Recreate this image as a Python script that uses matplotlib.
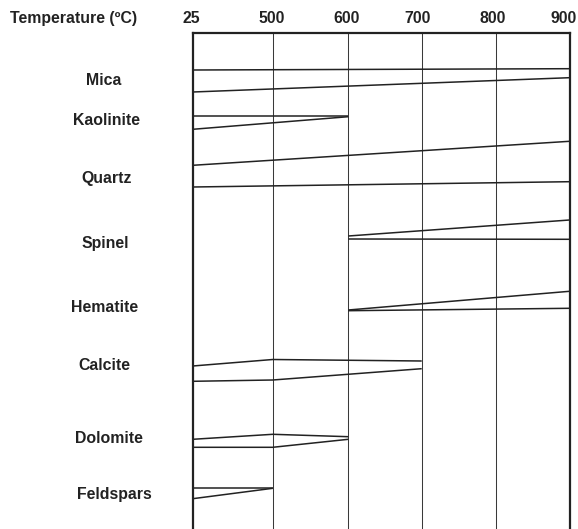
import matplotlib
matplotlib.use("Agg")
import matplotlib.pyplot as plt
from matplotlib import transforms

# Temperature steps shown as columns across the top
temperatures = [25, 500, 600, 700, 800, 900]
temperature_labels = ["25", "500", "600", "700", "800", "900"]

minerals = ["Mica", "Kaolinite", "Quartz", "Spinel", "Hematite",
            "Calcite", "Dolomite", "Feldspars"]

# Each band: temperatures where its outline is defined, upper edge, lower edge
# (edges measured downward from the header rule; band thickness ~ abundance)
mica_t = [25, 900]
mica_upper = [36.7, 35.4]
mica_lower = [58.7, 44.4]

kaolinite_t = [25, 600]
kaolinite_upper = [83.0, 83.0]
kaolinite_lower = [96.0, 83.4]

quartz_t = [25, 900]
quartz_upper = [132.0, 108.0]
quartz_lower = [153.7, 148.4]

spinel_t = [600, 900]
spinel_upper = [202.7, 186.7]
spinel_lower = [205.7, 206.0]

hematite_t = [600, 900]
hematite_upper = [276.7, 258.0]
hematite_lower = [277.4, 275.0]

calcite_t = [25, 500, 700]
calcite_upper = [332.7, 326.2, 327.7]
calcite_lower = [348.0, 346.7, 335.4]

dolomite_t = [25, 500, 600]
dolomite_upper = [406.0, 401.0, 403.4]
dolomite_lower = [414.0, 414.0, 406.0]

feldspars_t = [25, 500]
feldspars_upper = [454.4, 454.4]
feldspars_lower = [465.4, 455.0]

bands = [
    (mica_t, mica_upper, mica_lower),
    (kaolinite_t, kaolinite_upper, kaolinite_lower),
    (quartz_t, quartz_upper, quartz_lower),
    (spinel_t, spinel_upper, spinel_lower),
    (hematite_t, hematite_upper, hematite_lower),
    (calcite_t, calcite_upper, calcite_lower),
    (dolomite_t, dolomite_upper, dolomite_lower),
    (feldspars_t, feldspars_upper, feldspars_lower),
]

# ---- layout -------------------------------------------------------------
W, H = 578, 529
column_pos = [0.0, 1.062, 2.065, 3.039, 4.025, 5.0]
label_y = [47.4, 86.7, 145.0, 210.0, 274.4, 332.7, 405.0, 461.0]
label_x_px = [104, 107, 107, 105.7, 104.7, 104.7, 108.7, 114.7]
header_dx_px = [-1, -1, -2, -4, -3, -6]

ink = "#222222"
font = {"family": ["Liberation Sans", "DejaVu Sans"], "weight": "bold",
        "size": 11.4, "color": ink}

fig = plt.figure(figsize=(W / 100, H / 100), dpi=100)
left, right, top = 192.7, 569.5, 33.3
ax = fig.add_axes([left / W, 0, (right - left) / W, (H - top) / H])
ax.set_xlim(column_pos[0], column_pos[-1])
ax.set_ylim(H - top, 0)
ax.set_xticks([])
ax.set_yticks([])
for side in ("left", "right", "top"):
    ax.spines[side].set_linewidth(1.6)
    ax.spines[side].set_color(ink)
ax.spines["bottom"].set_visible(False)

col_of = dict(zip(temperatures, column_pos))

# interior column rules
for x in column_pos[1:-1]:
    ax.axvline(x, color="#3a3a3a", lw=0.75)

# band outlines
for t, upper, lower in bands:
    xs = [col_of[v] for v in t]
    ax.plot(xs, upper, color=ink, lw=1.1, solid_capstyle="butt", clip_on=False)
    ax.plot(xs, lower, color=ink, lw=1.1, solid_capstyle="butt", clip_on=False)

# mineral names
name_tr = transforms.blended_transform_factory(fig.transFigure, ax.transData)
for name, lx, ly in zip(minerals, label_x_px, label_y):
    ax.text(lx / W, ly, name, transform=name_tr, ha="center", va="center",
            fontdict=font)

# header row
head_y = 1 - 18.3 / H
fig.text(73.5 / W, head_y, "Temperature (ºC)", ha="center", va="center",
         fontdict=font)
head_tr = transforms.blended_transform_factory(ax.transData, fig.transFigure)
for x, lab, dx in zip(column_pos, temperature_labels, header_dx_px):
    tr = transforms.offset_copy(head_tr, fig=fig, x=dx, y=0, units="dots")
    ax.text(x, head_y, lab, transform=tr, ha="center", va="center",
            fontdict=font)

fig.savefig("out.png", dpi=100)
